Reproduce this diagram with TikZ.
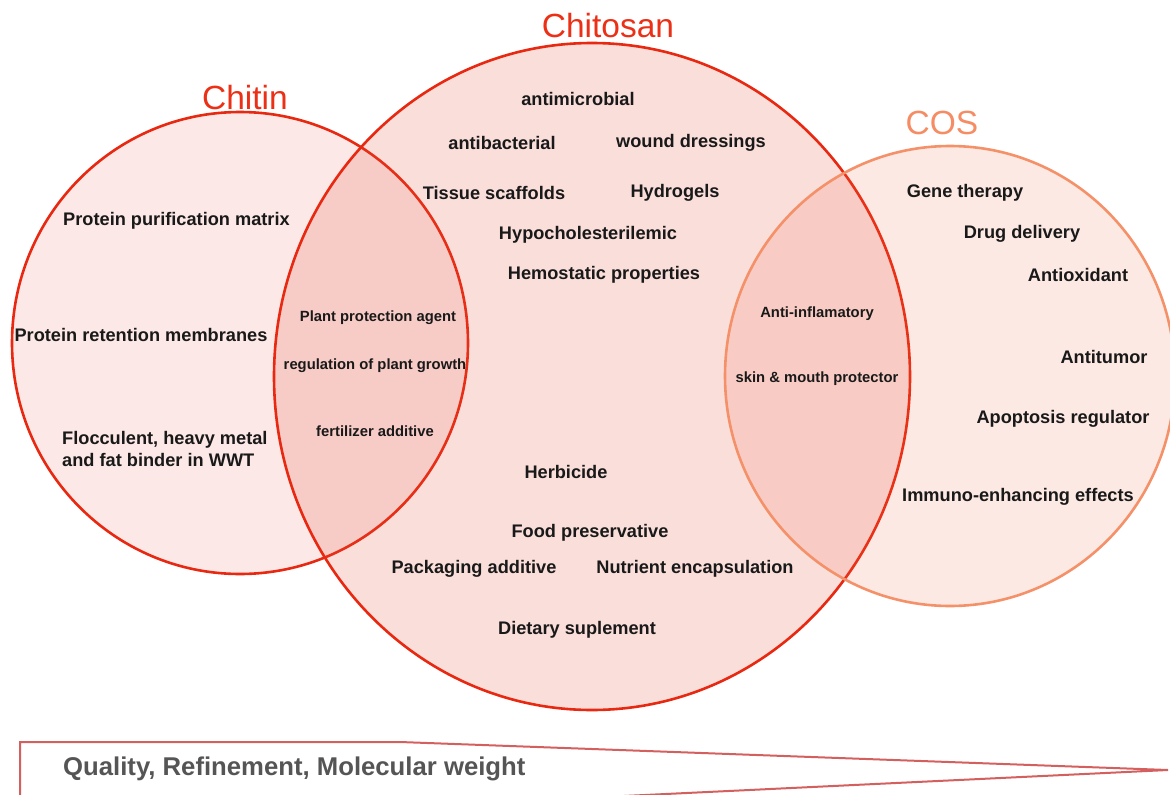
\documentclass[tikz,border=0pt]{standalone}
\usepackage{fontspec}
\setmainfont{Liberation Sans}
\usetikzlibrary{shapes.geometric}
\definecolor{redline}{RGB}{232,40,16}
\definecolor{cosline}{RGB}{245,145,105}
\definecolor{fillbase}{RGB}{230,80,60}
\definecolor{cosfill}{RGB}{240,105,70}
\definecolor{txt}{RGB}{25,25,25}
\definecolor{graytxt}{RGB}{85,85,85}
\definecolor{wedgeline}{RGB}{212,95,95}
\definecolor{redtitle}{RGB}{235,48,22}
\definecolor{costitle}{RGB}{245,140,100}
\begin{document}
\begin{tikzpicture}[x=1pt,y=-1pt,
 setshape/.style={ellipse, inner sep=0pt, line width=2.6pt},
 lab/.style={font=\fontsize{18.2}{21.5}\selectfont\bfseries, text=txt, inner sep=0pt},
 small/.style={font=\fontsize{14.8}{17}\selectfont\bfseries, text=txt, inner sep=0pt},
 settitle/.style={font=\fontsize{33.5}{38}\selectfont, inner sep=0pt}]
\useasboundingbox (0,0) rectangle (1170,795);
% sets
\node[setshape, minimum width=456pt, minimum height=462pt, fill=fillbase, fill opacity=0.13, draw=redline] (chitin) at (240,343) {};
\node[setshape, minimum width=636pt, minimum height=667pt, fill=fillbase, fill opacity=0.19, draw=redline] (chitosan) at (592,376.5) {};
\node[setshape, minimum width=450pt, minimum height=460pt, fill=cosfill, fill opacity=0.15, draw=cosline] (cos) at (950,376) {};
% titles
\node[settitle, text=redtitle] (tchitin) at (245,98) {Chitin};
\node[settitle, text=redtitle] (tchitosan) at (608,26) {Chitosan};
\node[settitle, text=costitle] (tcos) at (942,123) {COS};
% chitin
\node[lab] (ppm) at (176.5,221) {Protein purification matrix};
\node[lab] (prm) at (141,335) {Protein retention membranes};
\node[lab, align=left, anchor=west] (floc) at (62,449) {Flocculent, heavy metal\\and fat binder in WWT};
% chitin & chitosan
\node[small] (ppa) at (378,318) {Plant protection agent};
\node[small] (rpg) at (375,366) {regulation of plant growth};
\node[small] (fa) at (375,431) {fertilizer additive};
% chitosan
\node[lab] (amic) at (578,99) {antimicrobial};
\node[lab] (abac) at (502,143) {antibacterial};
\node[lab] (wd) at (691,143) {wound dressings};
\node[lab] (ts) at (494,193) {Tissue scaffolds};
\node[lab] (hg) at (675,193) {Hydrogels};
\node[lab] (hyp) at (588,235) {Hypocholesterilemic};
\node[lab] (hem) at (604,275) {Hemostatic properties};
\node[lab] (herb) at (566,472) {Herbicide};
\node[lab] (fp) at (590,533) {Food preservative};
\node[lab] (pa) at (474,569) {Packaging additive};
\node[lab] (ne) at (695,569) {Nutrient encapsulation};
\node[lab] (ds) at (577,630) {Dietary suplement};
% chitosan & cos
\node[small] (ai) at (817,314) {Anti-inflamatory};
\node[small] (smp) at (817,379) {skin \& mouth protector};
% cos
\node[lab] (gt) at (965,193) {Gene therapy};
\node[lab] (dd) at (1022,234) {Drug delivery};
\node[lab] (ao) at (1078,275) {Antioxidant};
\node[lab] (at) at (1104,357) {Antitumor};
\node[lab] (ar) at (1063,419) {Apoptosis regulator};
\node[lab] (ie) at (1018,497) {Immuno-enhancing effects};
% wedge
\begin{scope}
\clip (0,0) rectangle (1170,795);
\draw[wedgeline, line width=2pt, line join=miter] (20,800) -- (20,742) -- (400,742) -- (1168,770) -- (540,800);
\end{scope}
\node[font=\fontsize{25.7}{30}\selectfont\bfseries, text=graytxt, inner sep=0pt, anchor=west] (qual) at (63,769) {Quality, Refinement, Molecular weight};
\end{tikzpicture}
\end{document}
